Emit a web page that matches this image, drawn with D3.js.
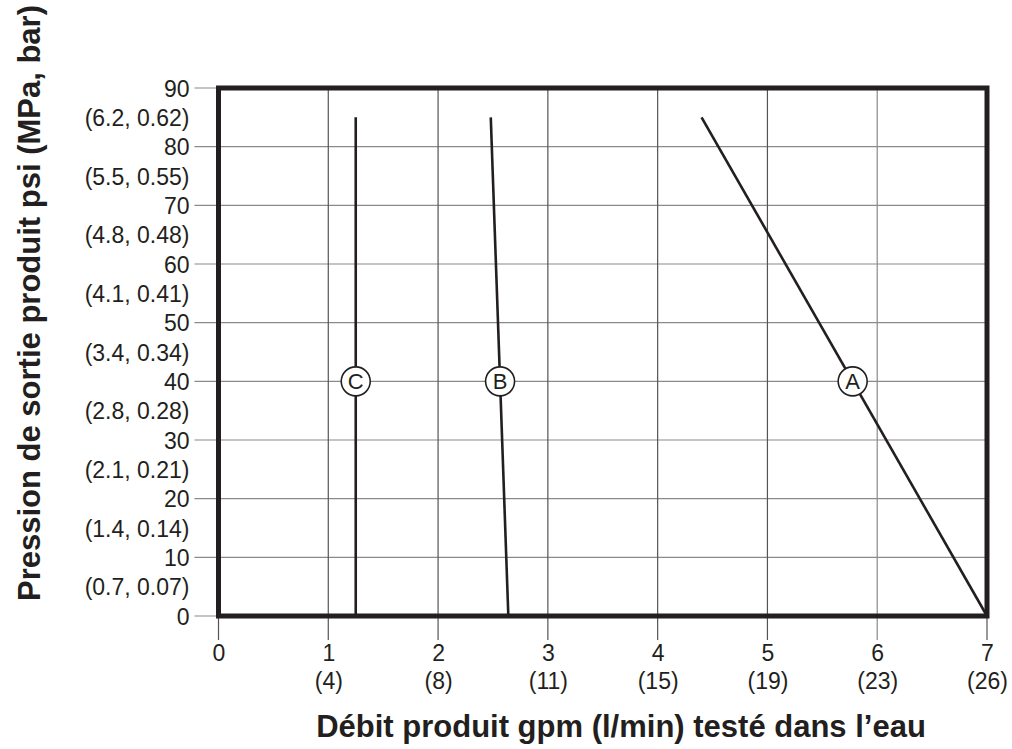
<!DOCTYPE html>
<html>
<head>
<meta charset="utf-8">
<script src="https://cdn.jsdelivr.net/npm/d3@7"></script>
<style>
  body { margin: 0; background: #fff; }
  text { font-family: "Liberation Sans", Arial, Helvetica, sans-serif; fill: #231f20; }
</style>
</head>
<body>
<svg class="chart"></svg>
<script>
// values
var xTicks = [0, 1, 2, 3, 4, 5, 6, 7];
var xSubLabels = ["", "(4)", "(8)", "(11)", "(15)", "(19)", "(23)", "(26)"];
var yTicks = [0, 10, 20, 30, 40, 50, 60, 70, 80, 90];
var ySubTicks = [5, 15, 25, 35, 45, 55, 65, 75, 85];
var ySubLabels = ["(0.7, 0.07)", "(1.4, 0.14)", "(2.1, 0.21)", "(2.8, 0.28)", "(3.4, 0.34)",
                  "(4.1, 0.41)", "(4.8, 0.48)", "(5.5, 0.55)", "(6.2, 0.62)"];
var curveNames = ["A", "B", "C"];
var curveA = [{x: 4.4, y: 85}, {x: 7.0, y: 0}];
var curveB = [{x: 2.48, y: 85}, {x: 2.64, y: 0}];
var curveC = [{x: 1.25, y: 85}, {x: 1.25, y: 0}];
var labelAt = 40;

var margin = {top: 88, right: 25, bottom: 133, left: 218.5},
    width = 1012 - margin.left - margin.right,
    height = 749 - margin.top - margin.bottom;

var svg = d3.select(".chart")
    .attr("width", 1012)
    .attr("height", 749);

var g = svg.append("g")
    .attr("transform", "translate(" + margin.left + "," + margin.top + ")");

var x = d3.scaleLinear().domain([0, 7]).range([0, width]);
var y = d3.scaleLinear().domain([0, 90]).range([height, 0]);

var tickLen = 24;
var fs = "23px";

// grid + outside ticks
g.selectAll(".hgrid")
    .data(yTicks)
    .enter().append("line")
    .attr("class", "hgrid")
    .attr("x1", -tickLen)
    .attr("x2", width)
    .attr("y1", function(d) { return y(d); })
    .attr("y2", function(d) { return y(d); })
    .style("stroke", "#8a8a8a")
    .style("stroke-width", 1.2);

g.selectAll(".vgrid")
    .data(xTicks)
    .enter().append("line")
    .attr("class", "vgrid")
    .attr("x1", function(d) { return x(d); })
    .attr("x2", function(d) { return x(d); })
    .attr("y1", 0)
    .attr("y2", height + tickLen)
    .style("stroke", function(d) { return d == 6 ? "#8a8a8a" : "#555"; })
    .style("stroke-width", 1.2);

// axes (labels only)
var yAxis = d3.axisLeft(y).tickValues(yTicks).tickSize(0).tickPadding(29);
var yAx = g.append("g").call(yAxis);
yAx.select(".domain").remove();
yAx.selectAll("text").style("font-size", fs).attr("dy", ".36em");

var yAxis2 = d3.axisLeft(y).tickValues(ySubTicks)
    .tickFormat(function(d, i) { return ySubLabels[i]; })
    .tickSize(0).tickPadding(29);
var yAx2 = g.append("g").call(yAxis2);
yAx2.select(".domain").remove();
yAx2.selectAll("text").style("font-size", fs).attr("dy", ".36em");

var xAxis = d3.axisBottom(x).tickValues(xTicks).tickFormat(d3.format("d")).tickSize(0);
var xAx = g.append("g").attr("transform", "translate(0," + height + ")").call(xAxis);
xAx.select(".domain").remove();
xAx.selectAll("text").style("font-size", fs).attr("y", 45).attr("dy", null);

var xAxis2 = d3.axisBottom(x).tickValues(xTicks)
    .tickFormat(function(d, i) { return xSubLabels[i]; })
    .tickSize(0);
var xAx2 = g.append("g").attr("transform", "translate(0," + height + ")").call(xAxis2);
xAx2.select(".domain").remove();
xAx2.selectAll("text").style("font-size", fs).attr("y", 73).attr("dy", null);

svg.selectAll(".tick text").style("fill", "#231f20")
    .style("font-family", "'Liberation Sans', Arial, sans-serif");

// curves
var line = d3.line().x(function(d) { return x(d.x); }).y(function(d) { return y(d.y); });
var curves = [curveA, curveB, curveC];

g.selectAll(".curve")
    .data(curves)
    .enter().append("path")
    .attr("class", "curve")
    .attr("d", line)
    .attr("fill", "none")
    .style("stroke", "#231f20")
    .style("stroke-width", 2.6);

// frame
g.append("rect")
    .attr("x", 0)
    .attr("y", 0)
    .attr("width", width)
    .attr("height", height)
    .attr("fill", "none")
    .style("stroke", "#231f20")
    .style("stroke-width", 5);

// curve labels in circles
function xAtY(pts, yy) {
  var t = (yy - pts[0].y) / (pts[1].y - pts[0].y);
  return pts[0].x + t * (pts[1].x - pts[0].x);
}

var lab = g.selectAll(".clabel")
    .data(curves)
    .enter().append("g")
    .attr("class", "clabel")
    .attr("transform", function(d) {
      return "translate(" + x(xAtY(d, labelAt)) + "," + y(labelAt) + ")";
    });

lab.append("circle")
    .attr("r", 14.5)
    .attr("fill", "#fff")
    .style("stroke", "#231f20")
    .style("stroke-width", 1.6);

lab.append("text")
    .attr("text-anchor", "middle")
    .attr("dy", ".36em")
    .style("font-size", "22px")
    .text(function(d, i) { return curveNames[i]; });

// axis titles
svg.append("text")
    .attr("x", 621)
    .attr("y", 737)
    .attr("text-anchor", "middle")
    .style("font-size", "31px")
    .style("font-weight", "bold")
    .text("Débit produit gpm (l/min) testé dans l’eau");

svg.append("text")
    .attr("transform", "translate(40,303) rotate(-90)")
    .attr("text-anchor", "middle")
    .style("font-size", "31px")
    .style("font-weight", "bold")
    .text("Pression de sortie produit psi (MPa, bar)");
</script>
</body>
</html>
